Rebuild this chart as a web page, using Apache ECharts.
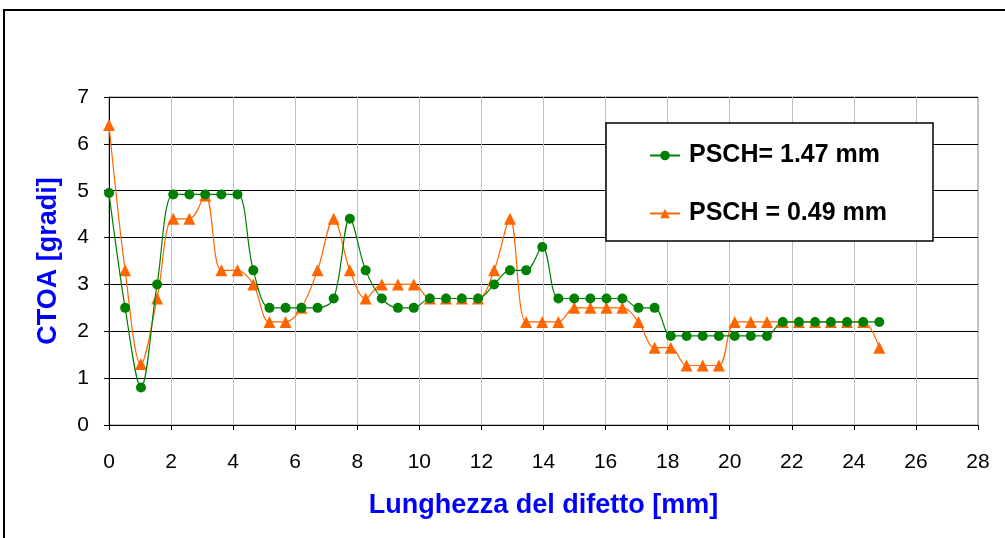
<!DOCTYPE html>
<html>
<head>
<meta charset="utf-8">
<script src="https://cdn.jsdelivr.net/npm/echarts@6/dist/echarts.min.js"></script>
<style>
  html, body { margin: 0; padding: 0; background: #fff; }
  #chart { width: 1005px; height: 538px; }
</style>
</head>
<body>
<div id="chart"></div>
<script>
// lunghezza del difetto [mm] (stessi punti per le due serie)
const xMm = [0, 0.52, 1.03, 1.55, 2.07, 2.59, 3.10, 3.62, 4.14, 4.65, 5.17, 5.69, 6.20, 6.72, 7.24, 7.76,
  8.27, 8.79, 9.31, 9.82, 10.34, 10.86, 11.37, 11.89, 12.41, 12.92, 13.44, 13.96, 14.48, 14.99, 15.51,
  16.03, 16.54, 17.06, 17.58, 18.10, 18.61, 19.13, 19.65, 20.16, 20.68, 21.20, 21.71, 22.23, 22.75,
  23.26, 23.78, 24.30, 24.82];

// CTOA [gradi]
const psch147 = [4.95, 2.5, 0.8, 3.0, 4.92, 4.92, 4.92, 4.92, 4.92, 3.3, 2.5, 2.5, 2.5, 2.5, 2.7, 4.4,
  3.3, 2.7, 2.5, 2.5, 2.7, 2.7, 2.7, 2.7, 3.0, 3.3, 3.3, 3.8, 2.7, 2.7, 2.7, 2.7, 2.7, 2.5, 2.5,
  1.9, 1.9, 1.9, 1.9, 1.9, 1.9, 1.9, 2.2, 2.2, 2.2, 2.2, 2.2, 2.2, 2.2];

const psch049 = [6.4, 3.3, 1.3, 2.7, 4.4, 4.4, 4.9, 3.3, 3.3, 3.0, 2.2, 2.2, 2.5, 3.3, 4.4, 3.3,
  2.7, 3.0, 3.0, 3.0, 2.7, 2.7, 2.7, 2.7, 3.3, 4.4, 2.2, 2.2, 2.2, 2.5, 2.5, 2.5, 2.5, 2.2, 1.65,
  1.65, 1.27, 1.27, 1.27, 2.2, 2.2, 2.2, 2.2, 2.2, 2.2, 2.2, 2.2, 2.2, 1.65];

const seriesNames = ['PSCH= 1.47 mm', 'PSCH = 0.49 mm'];

function pairs(ys) {
  return ys.map((y, i) => [xMm[i], y]);
}

const chart = echarts.init(document.getElementById('chart'));

const tickFont = "'Liberation Sans', Arial, sans-serif";
const boldFont = "'Liberation Sans', Arial, sans-serif";

const option = {
  animation: false,
  backgroundColor: '#fff',
  grid: {
    left: 109, top: 97, right: 27, bottom: 113,
    show: true, borderColor: '#888', borderWidth: 1
  },
  graphic: [
    // cornice esterna
    { type: 'rect', z: 10, shape: { x: 4, y: 10, width: 1100, height: 600 },
      style: { fill: 'none', stroke: '#000', lineWidth: 2 } },
    // riquadro legenda
    { type: 'rect', z: 3, shape: { x: 606, y: 123, width: 327, height: 118 },
      style: { fill: '#fff', stroke: '#000', lineWidth: 1.5 } }
  ],
  legend: {
    z: 5,
    orient: 'vertical',
    left: 644, top: 138,
    itemWidth: 30, itemHeight: 12,
    itemGap: 33,
    textStyle: { fontFamily: boldFont, fontWeight: 'bold', fontSize: 25, color: '#000', padding: [0, 0, 0, 4] },
    data: seriesNames
  },
  xAxis: {
    type: 'value', min: 0, max: 28, interval: 2,
    name: 'Lunghezza del difetto [mm]',
    nameLocation: 'middle', nameGap: 67,
    nameTextStyle: { fontFamily: boldFont, fontWeight: 'bold', fontSize: 27, color: '#0000ff' },
    axisLine: { lineStyle: { color: '#000', width: 1 } },
    axisTick: { show: true, inside: false, length: 5, lineStyle: { color: '#000' } },
    axisLabel: { margin: 27, fontFamily: tickFont, fontSize: 21, color: '#000' },
    splitLine: { show: true, lineStyle: { color: '#c0c0c0', width: 1 } }
  },
  yAxis: {
    type: 'value', min: 0, max: 7, interval: 1,
    name: 'CTOA [gradi]',
    nameLocation: 'middle', nameGap: 47,
    nameTextStyle: { fontFamily: boldFont, fontWeight: 'bold', fontSize: 27, color: '#0000ff' },
    axisLine: { show: true, lineStyle: { color: '#000', width: 1 } },
    axisTick: { show: true, inside: false, length: 5, lineStyle: { color: '#000' } },
    axisLabel: { margin: 20, fontFamily: tickFont, fontSize: 21, color: '#000' },
    splitLine: { show: true, lineStyle: { color: '#000', width: 1 } }
  },
  series: [
    {
      name: seriesNames[0],
      type: 'line',
      data: pairs(psch147),
      smooth: 0.35,
      symbol: 'circle',
      symbolSize: 10,
      itemStyle: { color: '#008000' },
      lineStyle: { color: '#008000', width: 1.2 },
      z: 3
    },
    {
      name: seriesNames[1],
      type: 'line',
      data: pairs(psch049),
      smooth: 0.35,
      symbol: 'triangle',
      symbolSize: 12,
      itemStyle: { color: '#ff6600' },
      lineStyle: { color: '#ff6600', width: 1.2 },
      z: 2
    }
  ]
};

chart.setOption(option);
</script>
</body>
</html>
